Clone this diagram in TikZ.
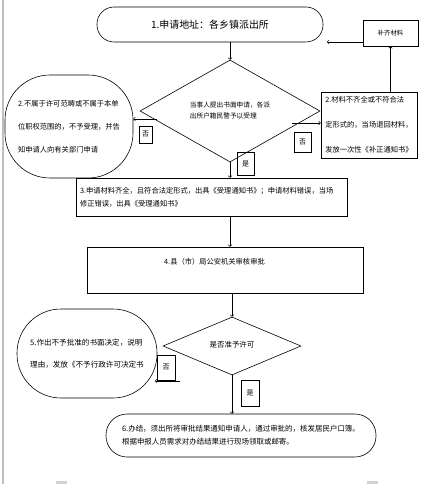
\documentclass[tikz,border=0pt]{standalone}
\usepackage{fontspec}
\setmainfont{Noto Sans CJK SC}
\usepackage{tikz}
\usetikzlibrary{shapes.geometric,calc}

\begin{document}
\begin{tikzpicture}[x=1bp, y=-1bp, line width=0.6pt,
    box/.style={draw, rectangle, inner sep=0pt, align=left},
    roundbox/.style={draw, rectangle, rounded corners=#1, inner sep=0pt, align=left},
    choice/.style={draw, diamond, inner sep=0pt, align=left},
    tag/.style={draw, rectangle, inner sep=0pt, font=\fontsize{7}{8}\selectfont}]
      \useasboundingbox (0,0) rectangle (429,484);
      % page edge and corner marks
      \draw[gray!50, line width=2bp] (3,0) -- (3,484);
      \fill[gray!35] (56,481) rectangle (67,484);
      \fill[gray!35] (367,481) rectangle (378,484);

      \node[roundbox=17bp, minimum width=226bp, minimum height=35bp, font=\fontsize{10}{12}\selectfont] (apply) at (210,24.5) {1.申请地址：各乡镇派出所};
      \node[box, minimum width=55bp, minimum height=26bp, font=\fontsize{6.5}{8}\selectfont] (supply) at (390.5,33) {补齐材料};
      \node[choice, minimum width=180bp, minimum height=78bp, font=\fontsize{6.7}{11}\selectfont] (check) at (230,111) {\raisebox{5bp}{\begin{tabular}{@{}l@{}}当事人提出书面申请，各派\\出所户籍民警予以受理\end{tabular}}};
      \node[roundbox=45bp, minimum width=128bp, minimum height=103bp, font=\fontsize{7.3}{23}\selectfont] (refuse) at (69,126.5) {2.不属于许可范畴或不属于本单\\位职权范围的，不予受理，并告\\知申请人向有关部门申请};
      \node[box, minimum width=96bp, minimum height=66bp, font=\fontsize{7.3}{25}\selectfont] (nonstd) at (369,125) {2.材料不齐全或不符合法\\定形式的，当场退回材料，\\发放一次性《补正通知书》};
      \node[box, minimum width=271bp, minimum height=38bp, text width=263bp, font=\fontsize{7.3}{13}\selectfont] (accept) at (211.5,197) {3.申请材料齐全，且符合法定形式，出具《受理通知书》；申请材料错误，当场\\修正错误，出具《受理通知书》};
      \node[box, minimum width=276bp, minimum height=46bp] (review) at (225,270) {};
      \node[font=\fontsize{7.3}{9}\selectfont, inner sep=0pt] (reviewtxt) at (214.5,262) {4.县（市）局公安机关审核审批};
      \node[choice, minimum width=138bp, minimum height=58bp, font=\fontsize{7.5}{9}\selectfont] (permit) at (232,346) {\raisebox{3bp}{是否准予许可}};
      \node[roundbox=44bp, minimum width=140bp, minimum height=89bp, font=\fontsize{7.6}{22}\selectfont] (decline) at (87,353.5) {5.作出不予批准的书面决定，说明\\理由，发放《不予行政许可决定书};
      \node[roundbox=21bp, minimum width=270bp, minimum height=43bp, font=\fontsize{7.5}{13}\selectfont] (finish) at (241,435.5) {6.办结，须出所将审批结果通知申请人，通过审批的，核发居民户口簿。\\根据申报人员需求对办结结果进行现场领取或邮寄。};

      % yes / no tags
      \node[tag, minimum width=13bp, minimum height=17bp] (no1) at (145.5,134.5) {否};
      \node[tag, minimum width=17bp, minimum height=20bp] (no2) at (302.5,142) {否};
      \node[tag, minimum width=17bp, minimum height=23bp] (yes1) at (245.5,163.5) {是};
      \node[tag, minimum width=18bp, minimum height=25bp] (no3) at (166,367.5) {否};
      \node[tag, minimum width=18bp, minimum height=26bp] (yes2) at (250,393) {是};

      \coordinate (backin) at (327,42);
      \coordinate (noleft) at (157,119);
      \coordinate (noright) at (292,123);
      \coordinate (noback) at (180,381);
      \coordinate (declinetip) at (155,381);

      % apply -> check
      \draw[->] (check.north |- apply.south) -- (check.north);
      % supply -> apply
      \draw[->] (supply.west |- backin) -- (backin);
      % nonstd -> supply
      \draw[->] (nonstd.north -| supply.south) -- (supply.south);
      % check -> refuse / nonstd
      \draw[->] (noleft) -- (noleft -| refuse.east);
      \draw[->] (noright) -- (noright -| nonstd.west);
      % check -> accept -> review -> permit
      \draw[->] (check.south) -- (check.south |- accept.north);
      \draw[->] (accept.south -| check.south) -- (review.north -| check.south);
      \draw[->] (review.south -| permit.north) -- (permit.north);
      % permit -> decline / finish
      \draw[->] (noback) -- (declinetip);
      \draw[->] (permit.south) -- (permit.south |- finish.north);
    \end{tikzpicture}
\end{document}
